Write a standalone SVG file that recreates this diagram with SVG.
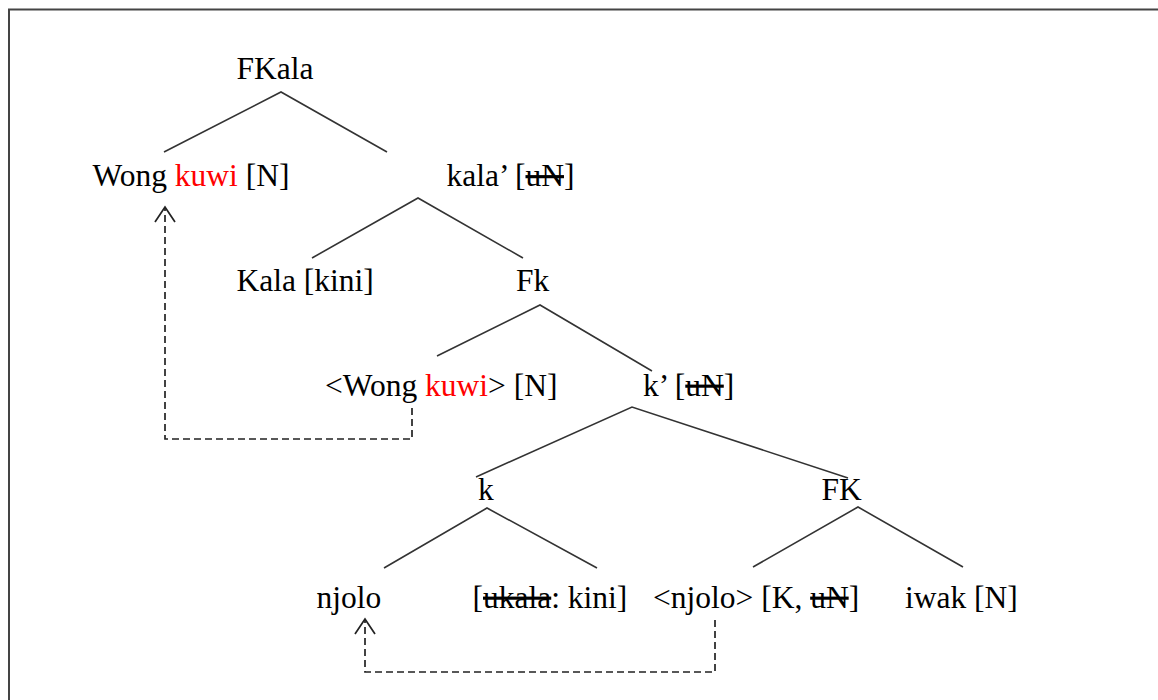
<svg xmlns="http://www.w3.org/2000/svg" width="1158" height="700" viewBox="0 0 1158 700">
  <style>
    .t { font-family: "Liberation Serif", "Times New Roman", serif; font-size: 31.5px; fill: #000; }
    .red { fill: #ff0000; }
    .strike { text-decoration: line-through; }
    .edge { stroke: #333; stroke-width: 1.6; fill: none; }
    .move { stroke: #222; stroke-width: 1.7; fill: none; stroke-dasharray: 7 4; }
    .head { stroke: #222; stroke-width: 1.7; fill: none; }
  </style>
  <rect width="1158" height="700" fill="#fff"/>
  <!-- frame, open at right and bottom -->
  <rect x="9" y="9.5" width="1170" height="720" fill="none" stroke="#444" stroke-width="2"/>

  <g id="connectors">
    <!-- tree branches -->
    <polyline class="edge" points="164,152 281,92 387,152"/>
    <polyline class="edge" points="312,258 418,198 523,258"/>
    <polyline class="edge" points="437,356 540,305 652,371"/>
    <polyline class="edge" points="476,477 632,407 848,478"/>
    <polyline class="edge" points="384,568 487,508 597,568"/>
    <polyline class="edge" points="753,567 858,507 963,567"/>
    <!-- movement arrows -->
    <polyline class="move" points="412,408 412,439 165,439 165,208"/>
    <polyline class="head" points="155,222 165,207 175,222"/>
    <polyline class="move" points="715,620 715,672 365,672 365,620"/>
    <polyline class="head" points="355,634 365,619 375,634"/>
  </g>

  <g id="n-fkala"><text class="t" x="236.5" y="78.5">FKala</text></g>
  <g id="n-wong"><text class="t" x="92.5" y="186">Wong <tspan class="red">kuwi</tspan> [N]</text></g>
  <g id="n-kalabar"><text class="t" x="446.5" y="186">kala’ [<tspan class="strike">uN</tspan>]</text></g>
  <g id="n-kala"><text class="t" x="236.5" y="290.5">Kala [kini]</text></g>
  <g id="n-fk"><text class="t" x="516" y="290.5">Fk</text></g>
  <g id="n-wong-copy"><text class="t" x="325" y="395.5">&lt;Wong <tspan class="red">kuwi</tspan>&gt; [N]</text></g>
  <g id="n-kbar"><text class="t" x="643" y="395.5">k’ [<tspan class="strike">uN</tspan>]</text></g>
  <g id="n-k"><text class="t" x="478" y="500">k</text></g>
  <g id="n-FK"><text class="t" x="821.5" y="500">FK</text></g>
  <g id="n-njolo"><text class="t" x="316.5" y="607.5">njolo</text></g>
  <g id="n-ukala"><text class="t" x="472.5" y="607.5">[<tspan class="strike">ukala</tspan>: kini]</text></g>
  <g id="n-njolo-copy"><text class="t" x="653" y="607.5">&lt;njolo&gt; [K, <tspan class="strike">uN</tspan>]</text></g>
  <g id="n-iwak"><text class="t" x="905" y="607.5">iwak [N]</text></g>
</svg>
